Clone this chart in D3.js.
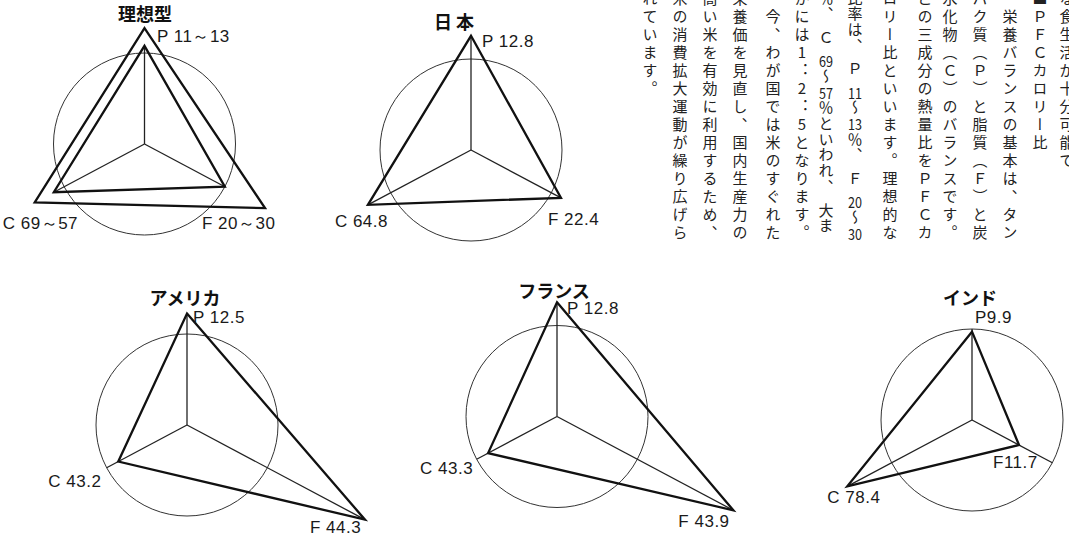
<!DOCTYPE html>
<html>
<head>
<meta charset="utf-8">
<script src="https://cdn.jsdelivr.net/npm/d3@7"></script>
<style>
html, body { margin: 0; padding: 0; background: #fff; }
svg { display: block; }
.title { font-family: "Noto Sans CJK JP", sans-serif; font-weight: 700; font-size: 18px; fill: #111; }
.value { font-family: "Liberation Sans", Arial, sans-serif; font-size: 17px; fill: #1a1a1a; letter-spacing: 0.5px; }
.body  { font-family: "Noto Sans CJK JP", sans-serif; font-size: 15px; fill: #222; }
.vert  { writing-mode: vertical-rl; text-orientation: mixed; }
.upright { text-orientation: upright; font-feature-settings: "vert" 0, "vrt2" 0; }
</style>
</head>
<body>
<svg id="chart"></svg>
<script>
//==========================================================================
// Data: PFC calorie ratio (%), one entry per panel.

var countries = ["理想型", "日 本", "アメリカ", "フランス", "インド"];
var protein   = [13, 12.8, 12.5, 12.8, 9.9];
var fat       = [30, 22.4, 44.3, 43.9, 11.7];
var carbs     = [69, 64.8, 43.2, 43.3, 78.4];

// lower end of the ideal range, drawn as the second triangle of the first panel (P, F, C)
var idealLow = [11, 20, 57];

var pLabels = ["P 11～13", "P 12.8", "P 12.5", "P 12.8", "P9.9"];
var fLabels = ["F 20～30", "F 22.4", "F 44.3", "F 43.9", "F11.7"];
var cLabels = ["C 69～57", "C 64.8", "C 43.2", "C 43.3", "C 78.4"];

// value that sits on the circle for each axis (P, F, C)
var circleValues = [10.2, 20, 50.5];

// the text column beside the charts, read from right to left
var textColumns = [
    "な食生活が十分可能で",
    "■ＰＦＣカロリー比",
    "　栄養バランスの基本は、タン",
    "パク質（Ｐ）と脂質（Ｆ）と炭",
    "水化物（Ｃ）のバランスです。",
    "この三成分の熱量比をＰＦＣカ",
    "ロリー比といいます。理想的な",
    "比率は、　Ｐ11～13％、　Ｆ20～30",
    "％、　Ｃ69～57％といわれ、　大ま",
    "かには1：2：5となります。",
    "　今、わが国では米のすぐれた",
    "栄養価を見直し、国内生産力の",
    "高い米を有効に利用するため、",
    "米の消費拡大運動が繰り広げら",
    "れています。"
];


//==========================================================================
// Layout.

var width = 1069;
var height = 538;
var R = 91;

var panelCenters = [[144.5, 144], [471, 150], [187, 425], [557, 416.5], [972, 420]];
var titleOffsets = [[0.5, -123], [-17, -121], [-2, -120], [-3, -118.5], [-2, -115]];
// label offsets from each vertex: P, F, C
var labelOffsets = [
    [[12.5, 14], [-63, 21], [-32, 26.5]],
    [[11, 11], [-13, 27], [-33, 22]],
    [[6, 9.5], [-55, 13.5], [-70, 25.5]],
    [[10, 12], [-55, 17], [-68, 21]],
    [[3, -8.7], [-26, 23], [-20, 17]]
];
var columnX = [1067, 1040, 1010, 980, 950, 925, 890, 855, 826, 802, 773, 740, 710, 680, 650];
var fontSize = 15;

var svg = d3.select("#chart")
    .attr("width", width)
    .attr("height", height)
;

// P up, F down-right, C down-left
var angles = [-90, 28, 152].map(function(d) { return d * Math.PI / 180; });

var radius = circleValues.map(function(v) {
    return d3.scaleLinear().domain([0, v]).range([0, R]);
});

function vertex(axis, value) {
    var r = radius[axis](value);
    return [Math.cos(angles[axis]) * r, Math.sin(angles[axis]) * r];
}

var line = d3.line().curve(d3.curveLinearClosed);


//==========================================================================
// Panels.

countries.forEach(function(name, k) {
    var values = [protein[k], fat[k], carbs[k]];
    var series = [values];
    if (k === 0) series.push(idealLow);
    var inner = series[series.length - 1];

    var g = svg.append("g")
        .attr("transform", "translate(" + panelCenters[k][0] + "," + panelCenters[k][1] + ")")
    ;

    g.append("circle")
        .attr("r", R)
        .attr("fill", "none")
        .attr("stroke", "#333")
        .attr("stroke-width", 1)
    ;

    // spokes reach the circle or the (inner) data point, whichever is farther
    g.selectAll(".spoke")
        .data([0, 1, 2])
        .enter()
        .append("line")
        .classed("spoke", true)
        .attr("x1", 0)
        .attr("y1", 0)
        .attr("x2", function(i) {
            return Math.cos(angles[i]) * Math.max(R, radius[i](inner[i]));
        })
        .attr("y2", function(i) {
            return Math.sin(angles[i]) * Math.max(R, radius[i](inner[i]));
        })
        .attr("stroke", "#222")
        .attr("stroke-width", 1.3)
    ;

    g.selectAll(".tri")
        .data(series)
        .enter()
        .append("path")
        .classed("tri", true)
        .attr("d", function(d) {
            return line(d.map(function(v, i) { return vertex(i, v); }));
        })
        .attr("fill", "none")
        .attr("stroke", "#111")
        .attr("stroke-width", 2.3)
    ;

    g.append("text")
        .classed("title", true)
        .attr("x", titleOffsets[k][0])
        .attr("y", titleOffsets[k][1])
        .attr("text-anchor", "middle")
        .text(name)
    ;

    var labels = [pLabels[k], fLabels[k], cLabels[k]];
    labels.forEach(function(txt, i) {
        var p = vertex(i, values[i]);
        g.append("text")
            .classed("value", true)
            .attr("x", p[0] + labelOffsets[k][i][0])
            .attr("y", p[1] + labelOffsets[k][i][1])
            .text(txt)
        ;
    });
});


//==========================================================================
// Vertical text. Two-digit numbers sit across one cell; single digits and
// colons stay upright; everything else is set vertically.

function cellKind(ch) {
    if (/^[0-9]{2,}$/.test(ch)) return "combo";
    if (/^[0-9：]$/.test(ch)) return "upright";
    return "normal";
}

textColumns.forEach(function(col, c) {
    var cells = col.match(/[0-9]{2,}|./gu);
    var pitch = cells.length > 14 ? 235 / (cells.length - 1) : 18;
    var x = columnX[c];

    var runs = [];
    cells.forEach(function(ch, r) {
        var kind = cellKind(ch);
        var last = runs[runs.length - 1];
        if (kind !== "combo" && last && last.kind === kind) {
            last.text += ch;
        } else {
            runs.push({ kind: kind, text: ch, row: r });
        }
    });

    runs.forEach(function(run) {
        var y = -2 + run.row * pitch;
        if (run.kind === "combo") {
            svg.append("text")
                .attr("class", "body")
                .attr("x", x)
                .attr("y", y)
                .attr("text-anchor", "middle")
                .attr("dominant-baseline", "central")
                .attr("textLength", 14)
                .attr("lengthAdjust", "spacingAndGlyphs")
                .text(run.text)
            ;
        } else {
            svg.append("text")
                .attr("class", "body vert" + (run.kind === "upright" ? " upright" : ""))
                .attr("x", x)
                .attr("y", y - fontSize / 2)
                .style("letter-spacing", (pitch - fontSize) + "px")
                .text(run.text)
            ;
        }
    });
});
</script>
</body>
</html>
